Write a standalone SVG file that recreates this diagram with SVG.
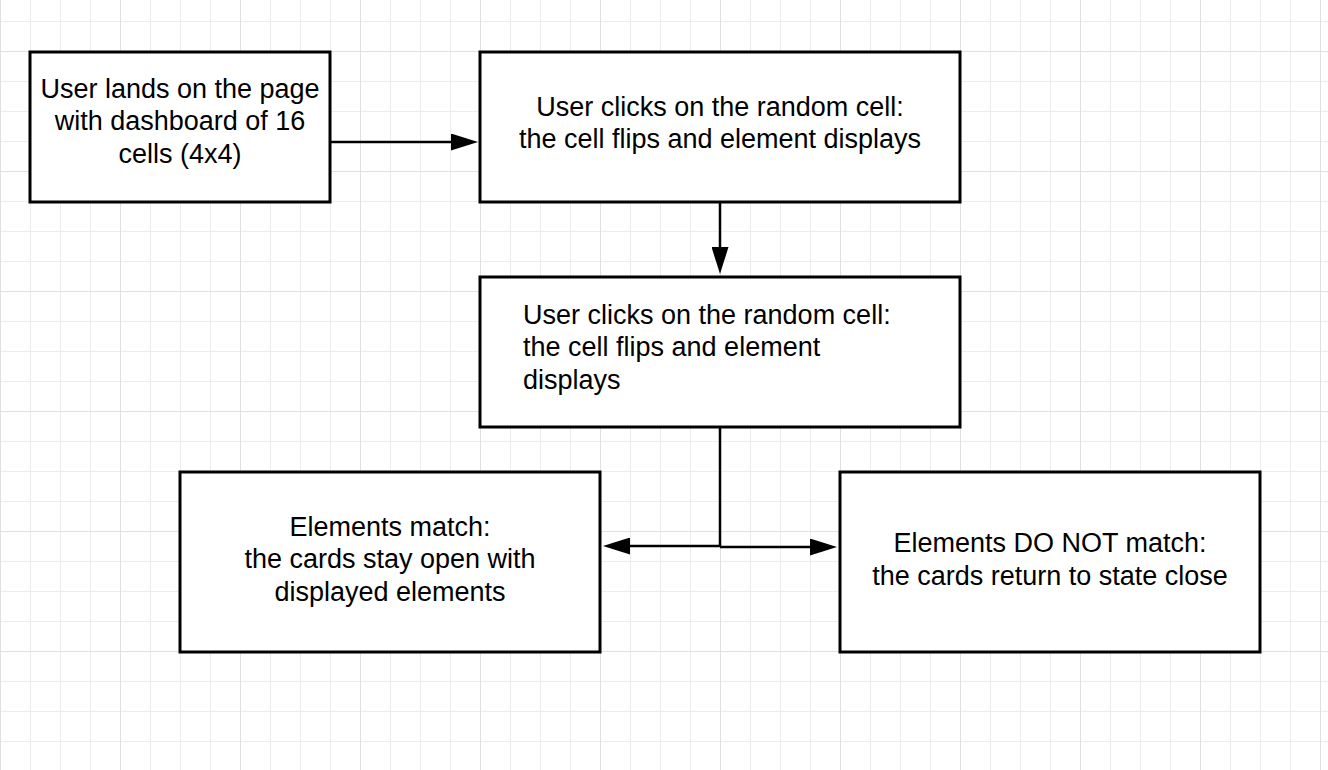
<svg xmlns="http://www.w3.org/2000/svg" width="1328" height="770" viewBox="0 0 1328 770">
<defs>
<style>
.box{fill:#fff;stroke:#000;stroke-width:3}
.t{font-family:"Liberation Sans",Arial,sans-serif;font-size:27px;fill:#000}
.c{text-anchor:middle}
.conn{fill:none;stroke:#000;stroke-width:2.5}
</style>
<pattern id="minor" patternUnits="userSpaceOnUse" x="0" y="21" width="30" height="30">
<path d="M0.5 0V30M0 0.5H30" fill="none" stroke="#ececec" stroke-width="1"/>
</pattern>
<pattern id="major" patternUnits="userSpaceOnUse" x="0" y="51" width="120" height="120">
<path d="M0.5 0V120M0 0.5H120" fill="none" stroke="#e0e0e0" stroke-width="1"/>
</pattern>
<marker id="arr" viewBox="0 0 27 17" refX="17" refY="8.5" markerWidth="27" markerHeight="17" markerUnits="userSpaceOnUse" orient="auto">
<path d="M0 0L27 8.5L0 17Z" fill="#000"/>
</marker>
</defs>
<rect width="1328" height="770" fill="#fff"/>
<rect width="1328" height="770" fill="url(#minor)"/>
<rect width="1328" height="770" fill="url(#major)"/>
<g id="connectors">
<path class="conn" d="M331 142H468" marker-end="url(#arr)"/>
<path class="conn" d="M720 203V264" marker-end="url(#arr)"/>
<path class="conn" d="M720 428V546H613" marker-end="url(#arr)"/>
<path class="conn" d="M720 547H827" marker-end="url(#arr)"/>
</g>
<g id="n1">
<rect class="box" x="30" y="52" width="300" height="150"/>
<text class="t c" x="180" y="98">User lands on the page</text>
<text class="t c" x="180" y="130">with dashboard of 16</text>
<text class="t c" x="180" y="163">cells (4x4)</text>
</g>
<g id="n2">
<rect class="box" x="480" y="52" width="480" height="150"/>
<text class="t c" x="720" y="116">User clicks on the random cell:</text>
<text class="t c" x="720" y="148">the cell flips and element displays</text>
</g>
<g id="n3">
<rect class="box" x="480" y="277" width="480" height="150"/>
<text class="t" x="523" y="324">User clicks on the random cell:</text>
<text class="t" x="523" y="356">the cell flips and element</text>
<text class="t" x="523" y="389">displays</text>
</g>
<g id="n4">
<rect class="box" x="180" y="472" width="420" height="180"/>
<text class="t c" x="390" y="536">Elements match:</text>
<text class="t c" x="390" y="568">the cards stay open with</text>
<text class="t c" x="390" y="601">displayed elements</text>
</g>
<g id="n5">
<rect class="box" x="840" y="472" width="420" height="180"/>
<text class="t c" x="1050" y="552">Elements DO NOT match:</text>
<text class="t c" x="1050" y="585">the cards return to state close</text>
</g>
</svg>
